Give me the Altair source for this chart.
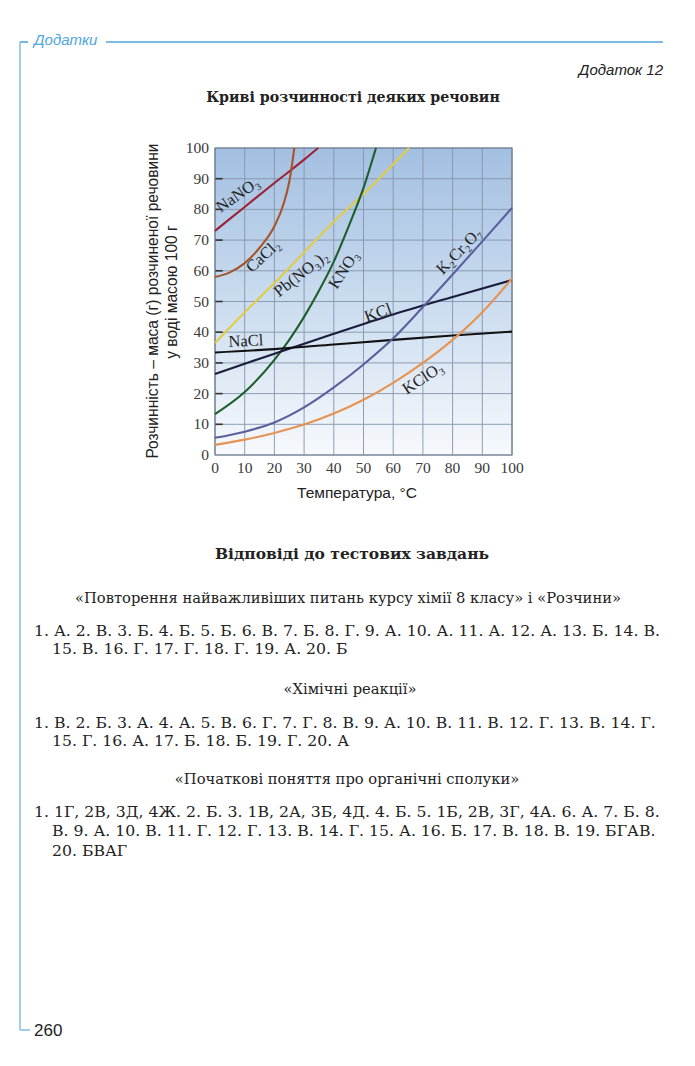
import altair as alt
import pandas as pd

# ---------------- data ----------------
substances = ["NaNO₃", "CaCl₂", "Pb(NO₃)₂", "KNO₃", "KCl", "NaCl", "K₂Cr₂O₇", "KClO₃"]
line_colors = ["#9b2335", "#a6542b", "#e0cc45", "#1d5e2c", "#1c1c3c", "#111111", "#5b5f9e", "#e69352"]

nano3_t = [0, 10, 20, 30, 34.7]
nano3_s = [73, 80.8, 88.6, 96.2, 100]
cacl2_t = [0, 5, 10, 15, 20, 23, 25, 26, 26.7]
cacl2_s = [58, 59.5, 62.5, 67.5, 74.5, 81.5, 89, 95, 100]
pbno3_t = [0, 10, 20, 30, 40, 50, 60, 65.3]
pbno3_s = [36.5, 46.5, 56, 66, 76, 85, 94.7, 100]
kno3_t = [0, 10, 20, 25, 30, 35, 40, 45, 50, 54.2]
kno3_s = [13.3, 20.5, 31, 37.5, 45, 53.5, 63, 74.5, 87, 100]
kcl_t = [0, 20, 40, 60, 80, 100]
kcl_s = [26.4, 33, 39.5, 45.8, 51.5, 57]
nacl_t = [0, 20, 40, 60, 80, 100]
nacl_s = [33.4, 34.5, 36, 37.5, 38.9, 40.2]
k2cr2o7_t = [0, 10, 20, 30, 40, 50, 60, 70, 80, 90, 100]
k2cr2o7_s = [5.6, 7.6, 10.6, 15.5, 22, 29.5, 38, 48.2, 58.8, 69.6, 80.5]
kclo3_t = [0, 10, 20, 30, 40, 50, 60, 70, 80, 90, 100]
kclo3_s = [3.3, 5, 7.2, 9.9, 13.5, 18, 23.5, 30, 37.5, 46.5, 57.5]

label_t = [7.7, 16.2, 29, 43.4, 54.9, 10.4, 82.2, 70]
label_s = [84.7, 64.8, 59, 60.3, 46.3, 37.1, 66.4, 25]
label_angle = [325, 317, 322, 303, 340, 357, 314, 327]

tick_values = list(range(0, 101, 10))

page_title = "Додатки"
appendix_title = "Додаток 12"
chart_title = "Криві розчинності деяких речовин"
y_title_lines = ["Розчинність – маса (г) розчиненої речовини", "у воді масою 100 г"]
x_title = "Температура, °C"
answers_title = "Відповіді до тестових завдань"
section_titles = [
    "«Повторення найважливіших питань курсу хімії 8 класу» і «Розчини»",
    "«Хімічні реакції»",
    "«Початкові поняття про органічні сполуки»",
]
section1_lines = [
    "1. А. 2. В. 3. Б. 4. Б. 5. Б. 6. В. 7. Б. 8. Г. 9. А. 10. А. 11. А. 12. А. 13. Б. 14. В.",
    "15. В. 16. Г. 17. Г. 18. Г. 19. А. 20. Б",
]
section2_lines = [
    "1. В. 2. Б. 3. А. 4. А. 5. В. 6. Г. 7. Г. 8. В. 9. А. 10. В. 11. В. 12. Г. 13. В. 14. Г.",
    "15. Г. 16. А. 17. Б. 18. Б. 19. Г. 20. А",
]
section3_lines = [
    "1. 1Г, 2В, 3Д, 4Ж. 2. Б. 3. 1В, 2А, 3Б, 4Д. 4. Б. 5. 1Б, 2В, 3Г, 4А. 6. А. 7. Б. 8.",
    "В. 9. А. 10. В. 11. Г. 12. Г. 13. В. 14. Г. 15. А. 16. Б. 17. В. 18. В. 19. БГАВ.",
    "20. БВАГ",
]
page_number = "260"

# ---------------- tables ----------------
series = [
    (nano3_t, nano3_s), (cacl2_t, cacl2_s), (pbno3_t, pbno3_s), (kno3_t, kno3_s),
    (kcl_t, kcl_s), (nacl_t, nacl_s), (k2cr2o7_t, k2cr2o7_s), (kclo3_t, kclo3_s),
]
rows = []
for name, (ts, ss) in zip(substances, series):
    for t, s in zip(ts, ss):
        rows.append({"substance": name, "t": t, "s": s})
curves = pd.DataFrame(rows)
labels = pd.DataFrame({"substance": substances, "t": label_t, "s": label_s, "angle": label_angle})
ticks_df = pd.DataFrame({"v": tick_values, "lab": [str(v) for v in tick_values],
                         "lo": [0] * len(tick_values), "hi": [100] * len(tick_values)})

W, H = 695, 1066
XS = alt.Scale(domain=[0, 100], range=[215, 512])
YS = alt.Scale(domain=[0, 100], range=[455, 148])
color_scale = alt.Scale(domain=substances, range=line_colors)

SERIF = "DejaVu Serif"
TIMES = "Liberation Serif"
SANS = "Liberation Sans"

bg = alt.Chart(pd.DataFrame({"a": [0], "b": [100]})).mark_rect(
    fill=alt.LinearGradient(
        gradient="linear", x1=0, y1=0, x2=0, y2=1,
        stops=[alt.GradientStop(offset=0, color="#a3bfe1"),
               alt.GradientStop(offset=0.5, color="#cadcef"),
               alt.GradientStop(offset=1, color="#f7f9fc")],
    )
).encode(
    x=alt.X("a:Q", scale=XS, axis=None), x2="b:Q",
    y=alt.Y("a:Q", scale=YS, axis=None), y2="b:Q",
)

vgrid = alt.Chart(ticks_df).mark_rule(color="#8593aa", strokeWidth=0.9).encode(
    x=alt.X("v:Q", scale=XS, axis=None), y=alt.Y("lo:Q", scale=YS, axis=None), y2="hi:Q"
)
hgrid = alt.Chart(ticks_df).mark_rule(color="#8593aa", strokeWidth=0.9).encode(
    y=alt.Y("v:Q", scale=YS, axis=None), x=alt.X("lo:Q", scale=XS, axis=None), x2="hi:Q"
)
ytick_df = pd.DataFrame({"v": tick_values[1:-1], "lo": [0] * 9, "hi": [2.6] * 9})
yticks = alt.Chart(ytick_df).mark_rule(color="#333333", strokeWidth=1.6).encode(
    y=alt.Y("v:Q", scale=YS, axis=None), x=alt.X("lo:Q", scale=XS, axis=None), x2="hi:Q"
)
frame = alt.Chart(pd.DataFrame({"a": [0], "b": [100]})).mark_rect(
    fill=None, stroke="#6f7c90", strokeWidth=1.2
).encode(
    x=alt.X("a:Q", scale=XS, axis=None), x2="b:Q",
    y=alt.Y("a:Q", scale=YS, axis=None), y2="b:Q",
)

xlabels = alt.Chart(ticks_df).mark_text(
    font=TIMES, fontSize=15.5, color="#3a3a3a", align="center", baseline="alphabetic"
).encode(x=alt.X("v:Q", scale=XS, axis=None), y=alt.value(473), text="lab:N")
ylabels = alt.Chart(ticks_df).mark_text(
    font=TIMES, fontSize=15.5, color="#3a3a3a", align="right", baseline="middle"
).encode(y=alt.Y("v:Q", scale=YS, axis=None), x=alt.value(209), text="lab:N")

lines = alt.Chart(curves).mark_line(strokeWidth=2.1, interpolate="monotone").encode(
    x=alt.X("t:Q", scale=XS, axis=None),
    y=alt.Y("s:Q", scale=YS, axis=None),
    color=alt.Color("substance:N", scale=color_scale, legend=None),
    detail="substance:N",
    order="t:Q",
)

label_marks = alt.Chart(labels).mark_text(
    font=TIMES, fontSize=16.5, color="#222222", align="center", baseline="middle"
).encode(
    x=alt.X("t:Q", scale=XS, axis=None),
    y=alt.Y("s:Q", scale=YS, axis=None),
    text="substance:N",
    angle=alt.Angle("angle:Q", scale=None),
)


def txt(s, x, y, size, font, weight="normal", style="normal", align="left", color="#222222", angle=0):
    return alt.Chart(pd.DataFrame({"t": [s]})).mark_text(
        align=align, baseline="alphabetic", fontSize=size, font=font,
        fontWeight=weight, fontStyle=style, color=color, angle=angle,
    ).encode(x=alt.value(x), y=alt.value(y), text="t:N")


def rule(x1, y1, x2, y2, color, w):
    return alt.Chart(pd.DataFrame({"d": [0]})).mark_rule(color=color, strokeWidth=w).encode(
        x=alt.value(x1), y=alt.value(y1), x2=alt.value(x2), y2=alt.value(y2)
    )


blue = "#4ea6df"
BODY = 15.7
decor = [
    rule(20, 42, 28, 42, blue, 1.6),
    rule(106, 42, 663, 42, blue, 1.6),
    rule(20, 42, 20, 1030, "#8dc0e2", 1.6),
    rule(20, 1030, 30, 1030, "#8dc0e2", 1.6),
    txt(page_title, 34, 45, 15, SANS, style="italic", color=blue),
    txt(appendix_title, 663, 75, 15, SANS, style="italic", align="right"),
    txt(chart_title, 353, 102, 14.2, SERIF, weight="bold", align="center"),
    txt(y_title_lines[0], 158, 301, 15.6, SANS, align="center", angle=270),
    txt(y_title_lines[1], 177, 292, 15.6, SANS, align="center", angle=270),
    txt(x_title, 357, 498, 15.5, SANS, align="center"),
    txt(answers_title, 352, 559, 15.5, SERIF, weight="bold", align="center"),
    txt(section_titles[0], 348, 603, 14.7, SERIF, align="center"),
    txt(section1_lines[0], 34, 636, BODY, SERIF),
    txt(section1_lines[1], 52, 654, BODY, SERIF),
    txt(section_titles[1], 350, 694, 14.7, SERIF, align="center"),
    txt(section2_lines[0], 34, 728, BODY, SERIF),
    txt(section2_lines[1], 52, 746, BODY, SERIF),
    txt(section_titles[2], 347, 784, 14.7, SERIF, align="center"),
    txt(section3_lines[0], 34, 817, BODY, SERIF),
    txt(section3_lines[1], 52, 836, BODY, SERIF),
    txt(section3_lines[2], 52, 856, BODY, SERIF),
    txt(page_number, 34, 1036, 17, SANS),
]

chart = alt.layer(bg, vgrid, hgrid, yticks, frame, lines, label_marks, xlabels, ylabels, *decor).properties(
    width=W, height=H, autosize=alt.AutoSizeParams(type="none"), padding=0,
    background="white",
).configure_view(stroke=None)

chart.save("out.html", embed_options={"renderer": "svg", "actions": False})
